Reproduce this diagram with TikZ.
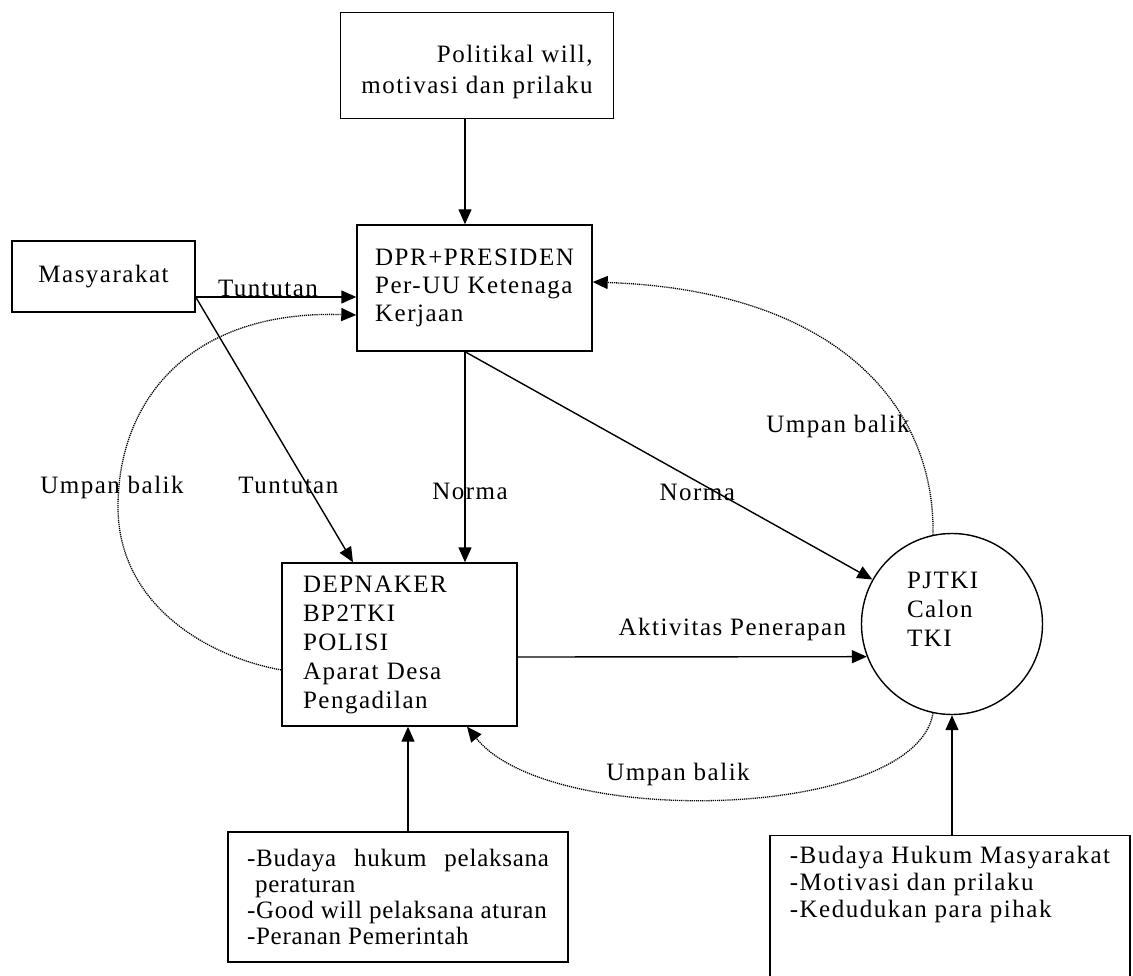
\documentclass[tikz,border=0pt]{standalone}
\usepackage{fontspec}
\setmainfont{Liberation Serif}[LetterSpace=6]
\newfontfamily\listfont{Liberation Serif}[LetterSpace=3]
\usetikzlibrary{arrows.meta}

\begin{document}
\begin{tikzpicture}[
	x=1pt, y=-1pt,
	font=\fontsize{25}{29}\selectfont,
	boxnode/.style={rectangle, draw, line width=1.4pt, inner xsep=18pt},
	listnode/.style={rectangle, draw, line width=1.4pt, inner xsep=19pt, inner ysep=10pt},
	agentnode/.style={circle, draw, line width=1.4pt, minimum size=181pt, inner sep=0pt},
	flow/.style={-{Triangle[length=15pt,width=13pt]}, line width=1.4pt},
	feedback/.style={-{Triangle[length=15pt,width=13pt]}, line width=1.3pt, dash pattern=on 1.2pt off 0.9pt},
	]
	\useasboundingbox (0,0) rectangle (1133,976);
	%Nodes
	\node[boxnode, inner xsep=21pt, minimum width=268pt, minimum height=106pt, align=right, font=\fontsize{25}{31}\selectfont] (pol) at (477,65.5) {\mbox{}\\Politikal will,\\motivasi dan prilaku};
	\node[boxnode, minimum width=183pt, minimum height=71pt] (mas) at (103.5,276.5) {Masyarakat};
	\node[boxnode, minimum width=235pt, minimum height=126pt, align=left, font=\fontsize{25}{28}\selectfont] (dpr) at (474.5,288) {DPR+PRESIDEN\\Per-UU Ketenaga\\Kerjaan};
	\node[boxnode, inner xsep=21pt, text width=193pt, minimum height=163pt, align=left] (dep) at (399.5,644.5) {DEPNAKER\\BP2TKI\\POLISI\\Aparat Desa\\Pengadilan};
	\node[agentnode, text width=90pt, align=left] (pjt) at (952,624) {PJTKI\\Calon\\TKI\\\mbox{}};
	\node[listnode, text width=302pt, minimum height=130pt, align=justify, font=\listfont\fontsize{25}{26}\selectfont] (bud1) at (398,897)
		{\parindent=0pt\hyphenpenalty=10000\hangindent=8pt\hangafter=1 -Budaya hukum pelaksana peraturan\par -Good~will~pelaksana~aturan\par -Peranan Pemerintah};
	\node[listnode, anchor=north, minimum width=360pt, align=left, font=\fontsize{25}{27}\selectfont] (bud2) at (950,835)
		{-Budaya Hukum Masyarakat\\-Motivasi dan prilaku\\-Kedudukan para pihak\\\mbox{}\\\mbox{}};

	%Lines
	\draw[flow] ([xshift=-9.5pt]dpr.north |- pol.south) -- ([xshift=-9.5pt]dpr.north);
	\draw[flow] ([yshift=-20.5pt]mas.east) -- node[above, pos=0.45, inner sep=0pt]{Tuntutan} ([yshift=-20.5pt]mas.east -| dpr.west);
	\draw[flow] ([yshift=-20.5pt]mas.east) -- node[pos=0.71, xshift=-19pt]{Tuntutan} ([xshift=-46.5pt]dep.north);
	\draw[flow] ([xshift=-9.5pt]dpr.south) -- node[pos=0.665, xshift=5pt]{Norma} ([xshift=65.5pt]dep.north);
	\draw[flow] ([xshift=-9.5pt]dpr.south) -- node[pos=0.57, yshift=-11pt]{Norma} (pjt);
	\draw[flow] ([yshift=-12.5pt]dep.east) -- node[pos=0.615, above=13pt, inner sep=2pt]{Aktivitas Penerapan} (pjt.201);
	\draw[flow] ([xshift=8.5pt]dep.south |- bud1.north) -- ([xshift=8.5pt]dep.south);
	\draw[flow] (pjt.south |- bud2.north) -- (pjt.south);

	%Umpan balik
	\draw[feedback] ([yshift=-25.5pt]dep.west) .. controls (200,655) and (118,600) .. (118,507) node[xshift=-6pt, yshift=20pt]{Umpan balik}
		.. controls (118,400) and (190,310) .. ([yshift=-27pt]dpr.west);
	\draw[feedback] (pjt.102) .. controls (935,400) and (830,290) .. node[pos=0.25, xshift=-76pt, yshift=13pt]{Umpan balik} ([yshift=6pt]dpr.east);
	\draw[feedback] (pjt.258) .. controls (915,820) and (550,830) .. node[pos=0.55, above=10pt, xshift=-15pt, inner sep=2pt]{Umpan balik} ([xshift=67.5pt]dep.south);
\end{tikzpicture}
\end{document}
